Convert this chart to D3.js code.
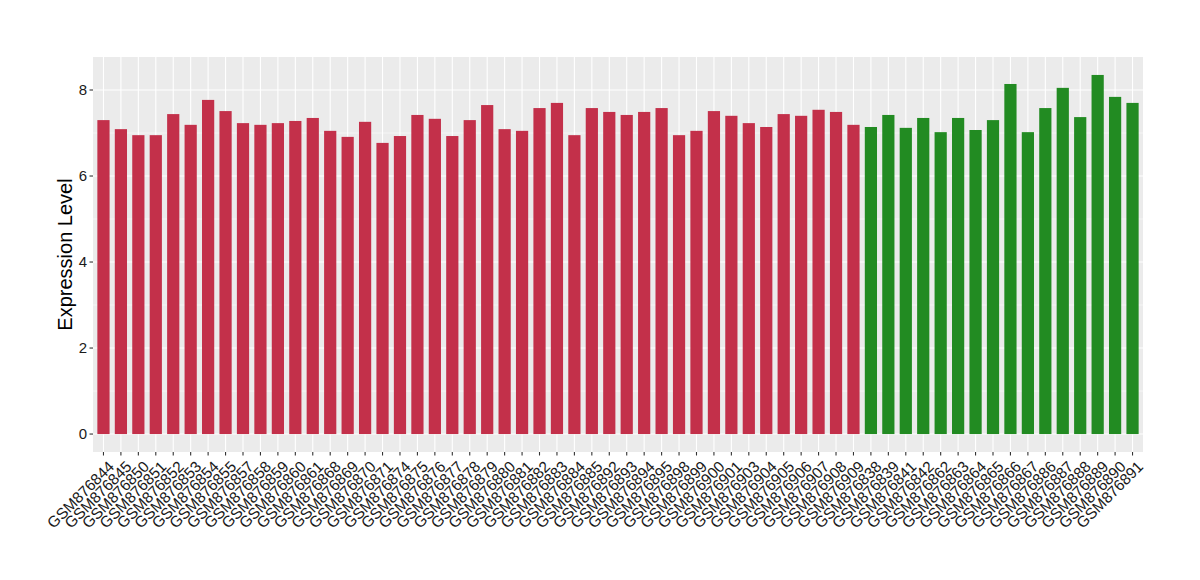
<!DOCTYPE html>
<html><head><meta charset="utf-8">
<script src="https://cdn.jsdelivr.net/npm/d3@7"></script>
<style>body{margin:0;background:#fff;} text{font-family:"Liberation Sans",Arial,sans-serif;}</style>
</head><body>
<svg id="chart" width="1200" height="580"></svg>
<script>
const categories = ["GSM876844","GSM876845","GSM876850","GSM876851","GSM876852","GSM876853","GSM876854","GSM876855","GSM876857","GSM876858","GSM876859","GSM876860","GSM876861","GSM876868","GSM876869","GSM876870","GSM876871","GSM876874","GSM876875","GSM876876","GSM876877","GSM876878","GSM876879","GSM876880","GSM876881","GSM876882","GSM876883","GSM876884","GSM876885","GSM876892","GSM876893","GSM876894","GSM876895","GSM876898","GSM876899","GSM876900","GSM876901","GSM876903","GSM876904","GSM876905","GSM876906","GSM876907","GSM876908","GSM876909","GSM876838","GSM876839","GSM876841","GSM876842","GSM876862","GSM876863","GSM876864","GSM876865","GSM876866","GSM876867","GSM876886","GSM876887","GSM876888","GSM876889","GSM876890","GSM876891"];
const values = [7.30,7.09,6.95,6.95,7.44,7.19,7.77,7.51,7.23,7.19,7.23,7.28,7.35,7.05,6.91,7.26,6.77,6.93,7.42,7.33,6.93,7.30,7.65,7.09,7.05,7.58,7.70,6.95,7.58,7.49,7.42,7.49,7.58,6.95,7.05,7.51,7.40,7.23,7.14,7.44,7.40,7.54,7.49,7.19,7.14,7.42,7.12,7.35,7.02,7.35,7.07,7.30,8.14,7.02,7.58,8.05,7.37,8.35,7.84,7.70];
const groups = categories.map((c,i)=> i < 44 ? "A" : "B");
const groupColors = {A:"#C3304A", B:"#228B22"};
const yTicks = [0,2,4,6,8];
const yMinor = [1,3,5,7];

const svg = d3.select("#chart");
const L=93, R=1143, T=57, B=452;
const n = categories.length;
// ggplot-like discrete scale: 0.6 step expansion each side, bar width 0.7
const x = d3.scalePoint().domain(categories).range([L,R]).padding(0.6);
const step = x.step();
const xc = d => x(d);
const bw = step*0.7;
const maxV = d3.max(values);
const y = d3.scaleLinear().domain([-maxV*0.05, maxV*1.05]).range([B,T]);

svg.append("rect").attr("x",L).attr("y",T).attr("width",R-L).attr("height",B-T).attr("fill","#EBEBEB");
svg.selectAll(".minor").data(yMinor).enter().append("line")
  .attr("x1",L).attr("x2",R).attr("y1",d=>y(d)).attr("y2",d=>y(d))
  .attr("stroke","#fff").attr("stroke-width",0.55);
svg.selectAll(".major").data(yTicks).enter().append("line")
  .attr("x1",L).attr("x2",R).attr("y1",d=>y(d)).attr("y2",d=>y(d))
  .attr("stroke","#fff").attr("stroke-width",1.1);
svg.selectAll(".vmajor").data(categories).enter().append("line")
  .attr("x1",d=>xc(d)).attr("x2",d=>xc(d)).attr("y1",T).attr("y2",B)
  .attr("stroke","#fff").attr("stroke-width",1.1);

svg.selectAll(".bar").data(categories).enter().append("rect")
  .attr("x",d=>xc(d)-bw/2).attr("width",bw)
  .attr("y",(d,i)=>y(values[i])).attr("height",(d,i)=>y(0)-y(values[i]))
  .attr("fill",(d,i)=>groupColors[groups[i]]);

svg.selectAll(".yt").data(yTicks).enter().append("line")
  .attr("x1",L-3.5).attr("x2",L).attr("y1",d=>y(d)).attr("y2",d=>y(d))
  .attr("stroke","#333").attr("stroke-width",1.1);
svg.selectAll(".yl").data(yTicks).enter().append("text")
  .attr("x",L-6).attr("y",d=>y(d)).attr("dy","0.35em").attr("text-anchor","end")
  .attr("font-size",15).attr("fill","#1a1a1a").text(d=>d);
svg.selectAll(".xt").data(categories).enter().append("line")
  .attr("x1",d=>xc(d)).attr("x2",d=>xc(d)).attr("y1",B).attr("y2",B+3.5)
  .attr("stroke","#333").attr("stroke-width",1.1);
svg.selectAll(".xl").data(categories).enter().append("text")
  .attr("transform",d=>`translate(${xc(d)+4},${B+8}) rotate(-45)`)
  .attr("text-anchor","end").attr("dy","0.7em")
  .attr("font-size",15.5).attr("fill","#1a1a1a").text(d=>d);

svg.append("text").attr("transform",`translate(72,${(T+B)/2}) rotate(-90)`)
  .attr("text-anchor","middle").attr("font-size",20).attr("fill","#000").text("Expression Level");
</script>
</body></html>
